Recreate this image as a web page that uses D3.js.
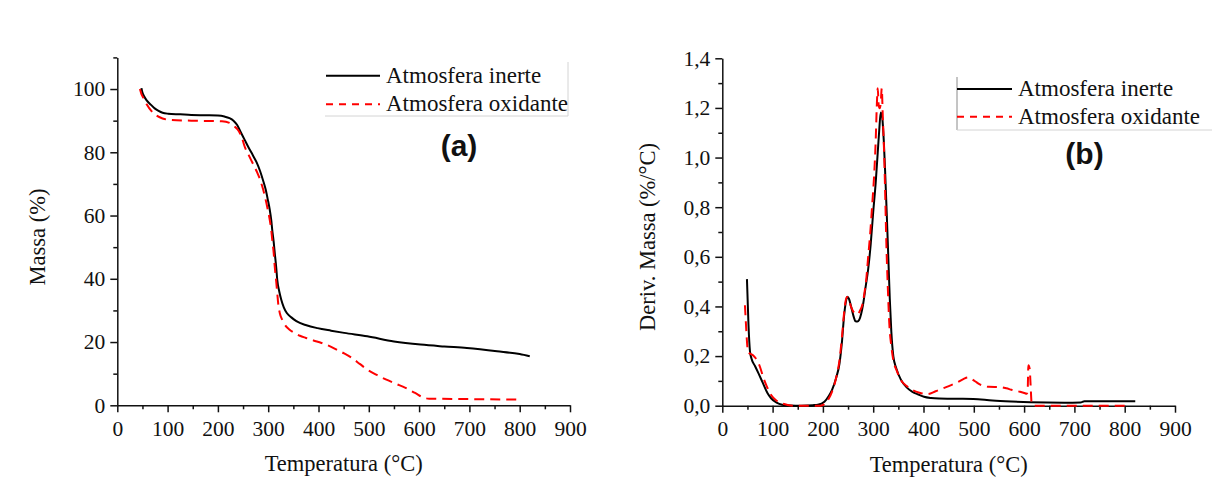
<!DOCTYPE html>
<html>
<head>
<meta charset="utf-8">
<script src="https://cdn.jsdelivr.net/npm/d3@7"></script>
<style>
body { margin: 0; background: #fff; }
text { font-family: "Liberation Serif", "Times New Roman", serif; fill: #111; }
.axis path, .axis line { stroke: #111; stroke-width: 1.5; }
</style>
</head>
<body>
<script>
// series: [temperatura (°C), valor]
var tgaInerte = [[48,100.3],[50,98.9],[53,97.8],[58,96.5],[67,95],[75,93.8],[82,93.1],[90,92.5],[101,92.2],[125,92],
  [147,91.8],[175,91.7],[200,91.6],[213,91.3],[223,90.8],[231,90],[238,88.7],[245,86.5],[253,84],[261,81.5],
  [269,79.2],[277,76.8],[284,74],[290,71],[295,68.2],[299,65.2],[303,61.9],[306,58.6],[308,55.5],[311,51.5],
  [313,48.2],[316,43.5],[318,39.7],[322,36],[326,33.4],[331,31],[337,29.2],[346,27.8],[356,26.6],[376,25.3],
  [398,24.4],[425,23.6],[451,22.9],[497,21.8],[550,20.2],[603,19.2],[650,18.6],[695,18.1],[755,17.1],[800,16.2],[820,15.5]];
var tgaOxidante = [[45,100],[48,98.4],[52,97.2],[59,95],[68,93],[78,91.6],[90,90.7],[101,90.3],[147,90],[208,89.8],
  [223,89.3],[232,88.3],[242,86.6],[248,84.5],[253,81.9],[261,79.2],[269,76.6],[277,74],[284,71.3],[290,68.2],
  [295,65],[299,62],[303,58.7],[306,55.5],[308,52.4],[311,48],[313,43.9],[316,39],[318,35.5],[320,32],
  [323,29.2],[328,27],[333,25.5],[342,24],[352,22.9],[363,22],[375,21.3],[390,20.5],[406,19.7],[421,18.8],
  [436,17.6],[451,16.4],[466,15],[482,13.1],[497,11.3],[516,9.6],[535,8.1],[554,6.8],[573,5.5],[592,3.9],
  [611,2.3],[620,2.1],[679,2.0],[740,1.9],[801,1.8]];

var dtgInerte = [[49,0.51],[50,0.45],[52,0.33],[55,0.22],[58,0.19],[65,0.16],[72,0.13],[81,0.09],[90,0.05],[97,0.03],
  [108,0.012],[119,0.004],[135,0.001],[157,0],[180,0.002],[190,0.004],[203,0.016],[212,0.04],[218,0.063],[226,0.11],
  [233,0.17],[238,0.26],[242,0.36],[245,0.41],[248.5,0.439],[252,0.43],[256,0.40],[261,0.36],[265,0.34],[268.5,0.339],
  [272,0.345],[276,0.37],[280,0.41],[285,0.48],[290,0.55],[295,0.65],[300,0.78],[305,0.9],[309,1.02],[312,1.11],
  [315,1.182],[318,1.16],[321,1.07],[324,0.93],[327,0.77],[330,0.6],[333,0.43],[336,0.3],[340,0.2],[346,0.15],
  [355,0.105],[366,0.075],[378,0.056],[390,0.045],[401,0.036],[415,0.031],[431,0.029],[470,0.028],[499,0.027],[537,0.021],
  [575,0.017],[613,0.014],[680,0.012],[712,0.013],[720,0.018],[821,0.018]];
var dtgOxidante = [[45,0.405],[47,0.33],[49,0.26],[51,0.217],[55,0.21],[60,0.205],[65,0.195],[70,0.18],[76,0.15],[81,0.117],
  [88,0.08],[97,0.043],[108,0.02],[119,0.009],[130,0.003],[142,0],[195,0],[205,0.01],[212,0.03],[218,0.056],
  [226,0.11],[233,0.184],[238,0.28],[242,0.371],[245,0.42],[248,0.438],[252,0.425],[256,0.398],[262,0.375],[268,0.368],
  [273,0.38],[279,0.411],[283,0.46],[286,0.505],[290,0.6],[294,0.693],[298,0.81],[302,0.934],[305,1.07],[307,1.2],
  [309,1.279],[311,1.21],[313,1.199],[315,1.22],[317,1.279],[319,1.17],[322,1.0],[324,0.84],[326,0.666],[329,0.48],
  [332,0.331],[336,0.24],[340,0.184],[347,0.14],[355,0.103],[366,0.08],[378,0.063],[392,0.052],[408,0.047],[424,0.058],
  [439,0.07],[455,0.083],[469,0.096],[480,0.108],[488,0.114],[494,0.11],[499,0.103],[505,0.095],[511,0.087],[520,0.08],
  [530,0.076],[553,0.075],[565,0.07],[575,0.064],[592,0.056],[602,0.05],[605,0.048],[607,0.056],[608.5,0.163],[611,0.15],
  [613,0.08],[615,0.009],[618,0.002],[621,0],[800,0]];

var seriesNames = ["Atmosfera inerte", "Atmosfera oxidante"];
var xTicks = d3.range(0, 901, 100);
var xMinor = d3.range(50, 900, 100);
var tgaTicks = d3.range(0, 101, 20);
var tgaMinor = d3.range(10, 111, 20);
var dtgTicks = d3.range(0, 1.41, 0.2);
var dtgMinor = d3.range(0.1, 1.4, 0.2);

var W = 1213, H = 482;
var svg = d3.select("body").append("svg")
    .attr("width", W)
    .attr("height", H);

svg.append("rect").attr("width", W).attr("height", H).attr("fill", "#fff");

var commaFmt = function(d) { return d3.format(".1f")(d).replace(".", ","); };

function drawPanel(p) {
  var x = d3.scaleLinear().domain([0, 900]).range([p.left, p.right]);
  var y = d3.scaleLinear().domain(p.yDomain).range([p.bottom, p.top]);

  // minor ticks first
  svg.append("g").attr("class", "axis")
      .attr("transform", "translate(0," + p.bottom + ")")
      .call(d3.axisBottom(x).tickValues(xMinor).tickSize(4).tickFormat(""))
      .select(".domain").remove();
  svg.append("g").attr("class", "axis")
      .attr("transform", "translate(" + p.left + ",0)")
      .call(d3.axisLeft(y).tickValues(p.yMinor).tickSize(4).tickFormat(""))
      .select(".domain").remove();

  var gx = svg.append("g").attr("class", "axis")
      .attr("transform", "translate(0," + p.bottom + ")")
      .call(d3.axisBottom(x).tickValues(xTicks).tickSize(7).tickSizeOuter(0).tickPadding(8));
  gx.selectAll("text").attr("font-size", 21.5);

  var gy = svg.append("g").attr("class", "axis")
      .attr("transform", "translate(" + p.left + ",0)")
      .call(d3.axisLeft(y).tickValues(p.yTicks).tickSize(7).tickSizeOuter(0).tickPadding(5).tickFormat(p.fmt));
  gy.selectAll("text").attr("font-size", 21.5);

  var line = d3.line()
      .x(function(d) { return x(d[0]); })
      .y(function(d) { return y(d[1]); })
      .curve(d3.curveMonotoneX);

  svg.append("path").datum(p.data[0])
      .attr("fill", "none").attr("stroke", "#000").attr("stroke-width", 2)
      .attr("d", line);
  svg.append("path").datum(p.data[1])
      .attr("fill", "none").attr("stroke", "#f00").attr("stroke-width", 2)
      .attr("stroke-dasharray", "10,6")
      .attr("d", line);

  // axis titles
  svg.append("text")
      .attr("x", (p.left + p.right) / 2).attr("y", p.bottom + 66)
      .attr("text-anchor", "middle").attr("font-size", 22.5)
      .text("Temperatura (°C)");
  svg.append("text")
      .attr("transform", "translate(" + p.yTitleX + ",237) rotate(-90)")
      .attr("text-anchor", "middle").attr("font-size", 22.5)
      .text(p.yTitle);

  // legend
  var lg = p.legend;
  lg.frame.forEach(function(f) {
    svg.append("line")
        .attr("x1", f[0]).attr("y1", f[1]).attr("x2", f[2]).attr("y2", f[3])
        .attr("stroke", f[4]).attr("stroke-width", 1);
  });
  seriesNames.forEach(function(name, i) {
    var ry = lg.y + i * lg.dy;
    svg.append("line")
        .attr("x1", lg.x).attr("x2", lg.x + lg.len).attr("y1", ry).attr("y2", ry)
        .attr("stroke", i ? "#f00" : "#000").attr("stroke-width", 2)
        .attr("stroke-dasharray", i ? "7,6" : null);
    svg.append("text")
        .attr("x", lg.x + lg.len + 6).attr("y", ry + 7)
        .attr("font-size", 23)
        .text(name);
  });

  svg.append("text")
      .attr("x", p.tag[0]).attr("y", p.tag[1])
      .attr("text-anchor", "middle")
      .style("font-family", "'Liberation Sans', Arial, sans-serif")
      .attr("font-weight", "bold").attr("font-size", 30)
      .text(p.tag[2]);
}

drawPanel({
  left: 117.3, right: 570, top: 57.4, bottom: 405.3,
  yDomain: [0, 110], yTicks: tgaTicks, yMinor: tgaMinor, fmt: d3.format("d"),
  data: [tgaInerte, tgaOxidante],
  yTitle: "Massa (%)", yTitleX: 45,
  legend: { x: 326, y: 75.7, dy: 28.6, len: 54,
    frame: [[568, 62, 568, 116, "#d4d4d4"], [325, 116, 568, 116, "#d4d4d4"]] },
  tag: [459, 156, "(a)"]
});

drawPanel({
  left: 722.3, right: 1175, top: 58.3, bottom: 405.7,
  yDomain: [0, 1.4], yTicks: dtgTicks, yMinor: dtgMinor, fmt: commaFmt,
  data: [dtgInerte, dtgOxidante],
  yTitle: "Deriv. Massa (%/°C)", yTitleX: 655,
  legend: { x: 957, y: 89, dy: 27.7, len: 55,
    frame: [[957, 77, 957, 130, "#8a8a8a"], [957, 130, 1212, 130, "#d4d4d4"]] },
  tag: [1084.5, 164, "(b)"]
});
</script>
</body>
</html>
